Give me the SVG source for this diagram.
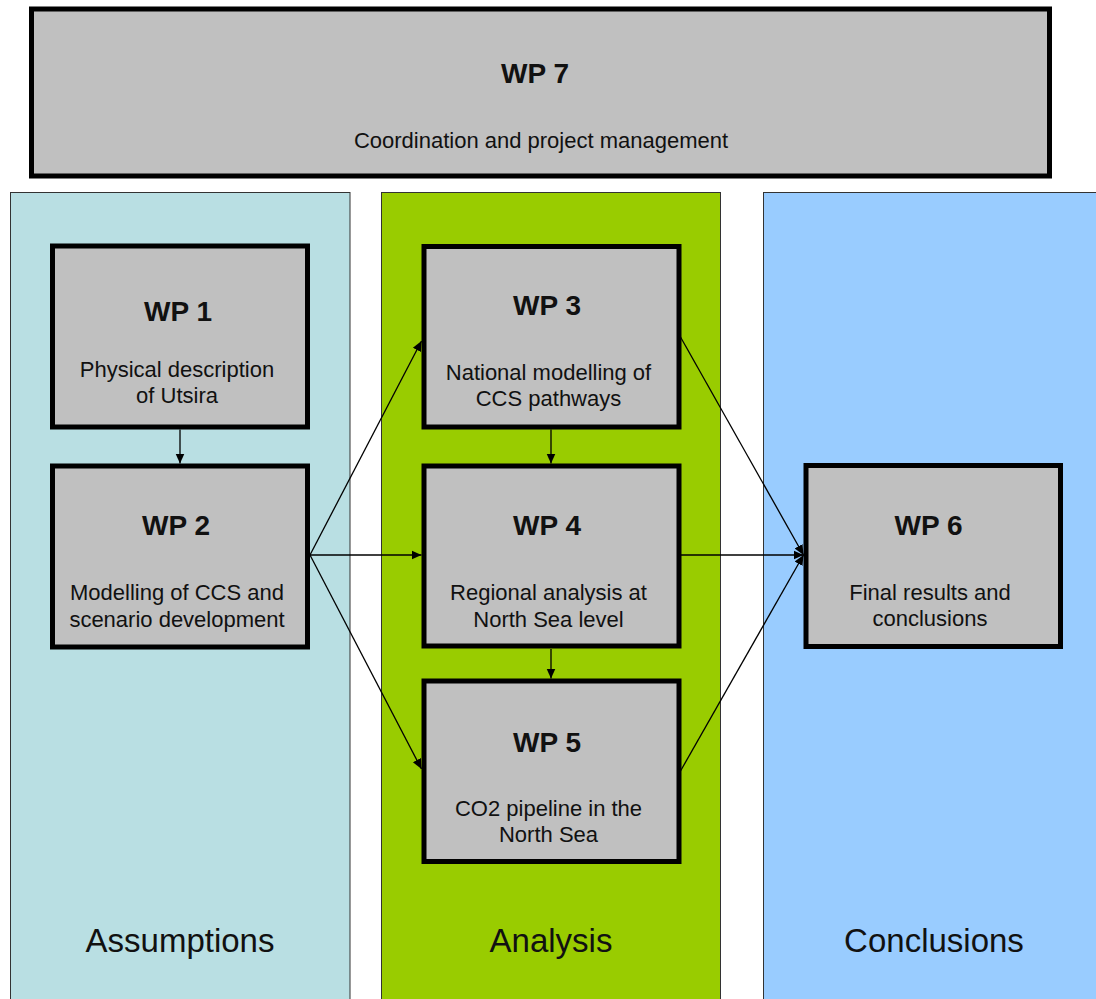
<svg xmlns="http://www.w3.org/2000/svg" width="1096" height="999" viewBox="0 0 1096 999">
<defs>
<style>
.col{stroke:#333;stroke-width:1}
.box{fill:#C0C0C0;stroke:#000;stroke-width:5}
.t{font-family:"Liberation Sans",Arial,sans-serif;fill:#111;text-anchor:middle}
.h{font-size:28px;font-weight:bold}
.b{font-size:22px}
.lbl{font-size:33px}
.c{stroke:#000;stroke-width:1.3;fill:none;marker-end:url(#ah)}
</style>
<marker id="ah" markerUnits="userSpaceOnUse" markerWidth="11" markerHeight="10" refX="10" refY="5" orient="auto">
<path d="M0,0.5 L10,5 L0,9.5 Z" fill="#000"/>
</marker>
</defs>
<rect width="1096" height="999" fill="#fff"/>
<g id="columns">
<rect class="col" x="10.5" y="192.5" width="339.5" height="820" fill="#B9DFE3"/>
<rect class="col" x="381.5" y="192.5" width="339" height="820" fill="#99CC00"/>
<rect class="col" x="763.5" y="192.5" width="350" height="820" fill="#99CCFF"/>
<text class="t lbl" x="180" y="952">Assumptions</text>
<text class="t lbl" x="551" y="952">Analysis</text>
<text class="t lbl" x="934" y="952">Conclusions</text>
</g>
<g id="wp7">
<rect class="box" x="31.5" y="9" width="1018" height="167" stroke-width="4"/>
<text class="t h" x="535" y="83">WP 7</text>
<text class="t b" x="541" y="148">Coordination and project management</text>
</g>
<g id="connectors">
<line class="c" x1="180" y1="429.5" x2="180" y2="463.5"/>
<line class="c" x1="551" y1="429.5" x2="551" y2="463.5"/>
<line class="c" x1="551" y1="649" x2="551" y2="678.5"/>
<line class="c" x1="310" y1="555" x2="421.5" y2="341"/>
<line class="c" x1="310" y1="555" x2="421.5" y2="555"/>
<line class="c" x1="310" y1="555" x2="421.5" y2="769"/>
<line class="c" x1="680.5" y1="337" x2="803.5" y2="555"/>
<line class="c" x1="680.5" y1="555" x2="803.5" y2="555"/>
<line class="c" x1="680.5" y1="771" x2="803.5" y2="555"/>
</g>
<g id="wp1">
<rect class="box" x="52.5" y="246" width="255" height="181"/>
<text class="t h" x="178" y="320.5">WP 1</text>
<text class="t b" x="177" y="376.5">Physical description</text>
<text class="t b" x="177" y="402.5">of Utsira</text>
</g>
<g id="wp2">
<rect class="box" x="52.5" y="466" width="255" height="181"/>
<text class="t h" x="176" y="535">WP 2</text>
<text class="t b" x="177" y="600">Modelling of CCS and</text>
<text class="t b" x="177" y="626.5">scenario development</text>
</g>
<g id="wp3">
<rect class="box" x="424" y="246.5" width="255" height="180.5"/>
<text class="t h" x="547" y="315">WP 3</text>
<text class="t b" x="548.5" y="380">National modelling of</text>
<text class="t b" x="548.5" y="406">CCS pathways</text>
</g>
<g id="wp4">
<rect class="box" x="424" y="466" width="255" height="180"/>
<text class="t h" x="547" y="535">WP 4</text>
<text class="t b" x="548.5" y="600">Regional analysis at</text>
<text class="t b" x="548.5" y="626.5">North Sea level</text>
</g>
<g id="wp5">
<rect class="box" x="424" y="681" width="255" height="180.5"/>
<text class="t h" x="547" y="751.5">WP 5</text>
<text class="t b" x="548.5" y="816">CO2 pipeline in the</text>
<text class="t b" x="548.5" y="842">North Sea</text>
</g>
<g id="wp6">
<rect class="box" x="806" y="465.5" width="254.5" height="181"/>
<text class="t h" x="928.5" y="535">WP 6</text>
<text class="t b" x="930" y="600">Final results and</text>
<text class="t b" x="930" y="626">conclusions</text>
</g>
</svg>
